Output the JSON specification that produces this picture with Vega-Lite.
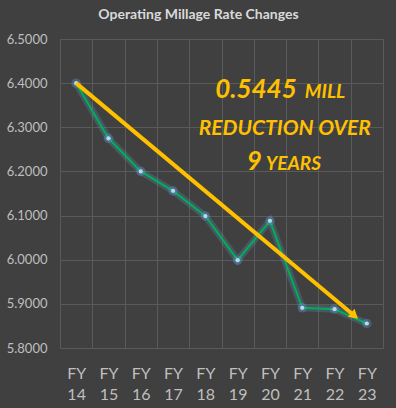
{
  "$schema": "https://vega.github.io/schema/vega-lite/v6.json",
  "autosize": "none",
  "width": 323,
  "height": 309,
  "padding": {"left": 60, "top": 39, "right": 13, "bottom": 60},
  "background": "#404040",
  "title": {
    "text": "Operating Millage Rate Changes",
    "color": "#d9d9d9",
    "font": "Lato",
    "fontSize": 14,
    "fontWeight": "bold",
    "anchor": "middle",
    "dx": -23,
    "offset": 11
  },
  "config": {
    "view": {"stroke": null},
    "axis": {"labelFont": "Lato", "labelColor": "#bfbfbf", "ticks": false, "domain": false}
  },
  "datasets": {
    "rates": [
      {"fy": 14, "rate": 6.4},
      {"fy": 15, "rate": 6.275},
      {"fy": 16, "rate": 6.2},
      {"fy": 17, "rate": 6.156},
      {"fy": 18, "rate": 6.099},
      {"fy": 19, "rate": 5.999},
      {"fy": 20, "rate": 6.088},
      {"fy": 21, "rate": 5.891},
      {"fy": 22, "rate": 5.888},
      {"fy": 23, "rate": 5.8555}
    ],
    "arrow": [
      {"fy": 14, "rate": 6.4},
      {"fy": 22.55, "rate": 5.877}
    ],
    "head": [
      {"fy": 22.62, "rate": 5.873}
    ],
    "notesRight": [
      {"text": "0.5445", "fy": 20.83, "rate": 6.366, "size": 26},
      {"text": "9", "fy": 19.75, "rate": 6.203, "size": 26}
    ],
    "notesLeft": [
      {"text": "MILL", "fy": 21.08, "rate": 6.366, "size": 19},
      {"text": "YEARS", "fy": 19.87, "rate": 6.203, "size": 19}
    ],
    "notesCenter": [
      {"text": "REDUCTION OVER", "fy": 20.46, "rate": 6.2826, "size": 21}
    ]
  },
  "resolve": {"axis": {"x": "independent"}},
  "layer": [
    {
      "data": {"name": "rates"},
      "mark": {"type": "line", "color": "#5b9bd5", "strokeWidth": 7, "opacity": 0.25},
      "encoding": {
        "x": {
          "field": "fy", "type": "quantitative",
          "scale": {"domain": [13.5, 23.5], "nice": false, "zero": false},
          "axis": {
            "orient": "bottom",
            "values": [13.5, 14.5, 15.5, 16.5, 17.5, 18.5, 19.5, 20.5, 21.5, 22.5, 23.5],
            "labels": false, "title": null, "grid": true,
            "gridColor": "#5a5a5a", "gridWidth": 1
          }
        },
        "y": {
          "field": "rate", "type": "quantitative",
          "scale": {"domain": [5.8, 6.5], "nice": false, "zero": false},
          "axis": {
            "values": [5.8, 5.9, 6.0, 6.1, 6.2, 6.3, 6.4, 6.5],
            "format": ".4f", "title": null, "labelFontSize": 13,
            "labelPadding": 13, "grid": true, "gridColor": "#5a5a5a", "gridWidth": 1
          }
        }
      }
    },
    {
      "data": {"name": "rates"},
      "mark": {"type": "line", "color": "#00b050", "strokeWidth": 2},
      "encoding": {
        "x": {
          "field": "fy", "type": "quantitative",
          "axis": {
            "orient": "bottom",
            "values": [14, 15, 16, 17, 18, 19, 20, 21, 22, 23],
            "labelExpr": "['FY', '' + datum.value]",
            "labelFontSize": 16, "labelLineHeight": 21, "labelPadding": 17,
            "labelBaseline": "top",
            "grid": false, "title": null
          }
        },
        "y": {"field": "rate", "type": "quantitative"}
      }
    },
    {
      "data": {"name": "rates"},
      "mark": {"type": "point", "filled": true, "color": "#5b9bd5", "size": 90, "opacity": 0.35},
      "encoding": {
        "x": {"field": "fy", "type": "quantitative", "axis": null},
        "y": {"field": "rate", "type": "quantitative"}
      }
    },
    {
      "data": {"name": "rates"},
      "mark": {"type": "point", "filled": true, "color": "#bdd7ee", "size": 18, "opacity": 1},
      "encoding": {
        "x": {"field": "fy", "type": "quantitative", "axis": null},
        "y": {"field": "rate", "type": "quantitative"}
      }
    },
    {
      "data": {"name": "arrow"},
      "mark": {"type": "line", "color": "#ffc000", "strokeWidth": 4},
      "encoding": {
        "x": {"field": "fy", "type": "quantitative", "axis": null},
        "y": {"field": "rate", "type": "quantitative"}
      }
    },
    {
      "data": {"name": "head"},
      "mark": {"type": "point", "shape": "triangle-up", "filled": true, "color": "#ffc000", "size": 110, "angle": 130, "opacity": 1},
      "encoding": {
        "x": {"field": "fy", "type": "quantitative", "axis": null},
        "y": {"field": "rate", "type": "quantitative"}
      }
    },
    {
      "data": {"name": "notesRight"},
      "mark": {"type": "text", "color": "#ffc000", "font": "Lato", "fontWeight": "bold", "fontStyle": "italic", "baseline": "alphabetic", "align": "right"},
      "encoding": {
        "x": {"field": "fy", "type": "quantitative", "axis": null},
        "y": {"field": "rate", "type": "quantitative"},
        "text": {"field": "text"},
        "size": {"field": "size", "type": "quantitative", "scale": null}
      }
    },
    {
      "data": {"name": "notesLeft"},
      "mark": {"type": "text", "color": "#ffc000", "font": "Lato", "fontWeight": "bold", "fontStyle": "italic", "baseline": "alphabetic", "align": "left"},
      "encoding": {
        "x": {"field": "fy", "type": "quantitative", "axis": null},
        "y": {"field": "rate", "type": "quantitative"},
        "text": {"field": "text"},
        "size": {"field": "size", "type": "quantitative", "scale": null}
      }
    },
    {
      "data": {"name": "notesCenter"},
      "mark": {"type": "text", "color": "#ffc000", "font": "Lato", "fontWeight": "bold", "fontStyle": "italic", "baseline": "alphabetic", "align": "center"},
      "encoding": {
        "x": {"field": "fy", "type": "quantitative", "axis": null},
        "y": {"field": "rate", "type": "quantitative"},
        "text": {"field": "text"},
        "size": {"field": "size", "type": "quantitative", "scale": null}
      }
    }
  ]
}
